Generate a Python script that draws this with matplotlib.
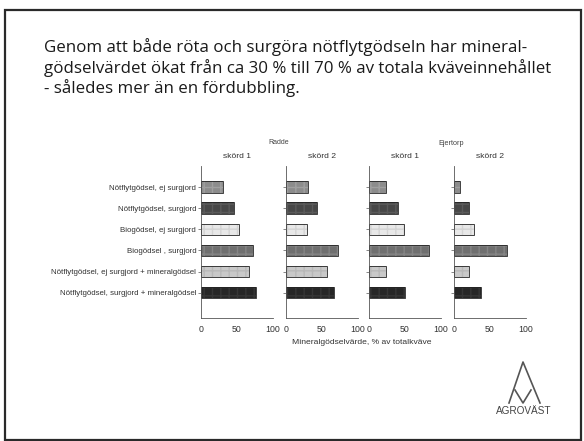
import matplotlib
matplotlib.use("Agg")
import matplotlib.pyplot as plt
from matplotlib.lines import Line2D
from matplotlib.patches import Rectangle

categories = [
    "Nötflytgödsel, ej surgjord",
    "Nötflytgödsel, surgjord",
    "Biogödsel, ej surgjord",
    "Biogödsel , surgjord",
    "Nötflytgödsel, ej surgjord + mineralgödsel",
    "Nötflytgödsel, surgjord + mineralgödsel",
]
panel_titles = ["skörd 1", "skörd 2", "skörd 1", "skörd 2"]
site_titles = ["Radde", "Ejertorp"]
radde_skord1 = [30, 46, 53, 72, 67, 76]
radde_skord2 = [30, 43, 29, 72, 57, 66]
ejertorp_skord1 = [24, 40, 49, 83, 24, 50]
ejertorp_skord2 = [9, 21, 28, 73, 21, 37]
series = [radde_skord1, radde_skord2, ejertorp_skord1, ejertorp_skord2]
xticks = [0, 50, 100]
xlabel = "Mineralgödselvärde, % av totalkväve"
heading = ("Genom att både röta och surgöra nötflytgödseln har mineral-\n"
           "gödselvärdet ökat från ca 30 % till 70 % av totala kväveinnehållet\n"
           "- således mer än en fördubbling.")

bar_colors = ["#8c8c8c", "#474747", "#e8e8e8", "#6f6f6f", "#c9c9c9", "#262626"]
hatch_colors = ["#a0a0a0", "#5a5a5a", "#d4d4d4", "#858585", "#b8b8b8", "#363636"]

W, H = 584, 441
fig = plt.figure(figsize=(W / 100, H / 100), dpi=100)
fig.patch.set_facecolor("white")

def fx(px):
    return px / W

def fy(py):
    return 1 - py / H

# slide border
fig.add_artist(Rectangle((fx(5), fy(440)), fx(576), fy(10) - fy(440),
                         transform=fig.transFigure, fill=False,
                         edgecolor="#2a2a2a", linewidth=1.6))

# heading text
fig.text(fx(44), fy(38), heading, ha="left", va="top", fontsize=12.2,
         family="Open Sans", color="#1a1a1a", linespacing=1.2)

lefts = [201, 286, 369, 454]
pw = 72
top, bottom = 166, 318
label_font = dict(family="Liberation Sans", fontsize=5.7, color="#333333")

for i, (left, vals) in enumerate(zip(lefts, series)):
    ax = fig.add_axes([fx(left), fy(bottom), fx(pw), fy(top) - fy(bottom)])
    ypos = list(range(len(categories)))
    for y, v, c, hc in zip(ypos, vals, bar_colors, hatch_colors):
        ax.barh(y, v, height=0.55, color=c, edgecolor=hc, linewidth=0,
                hatch="++")
        ax.barh(y, v, height=0.55, color="none", edgecolor="#222222",
                linewidth=0.6)
    ax.set_xlim(0, 100)
    ax.set_ylim(6.2, -1)
    ax.set_xticks(xticks)
    ax.set_xticklabels([str(t) for t in xticks], family="Liberation Sans",
                       fontsize=6.3)
    ax.set_yticks(ypos)
    if i == 0:
        ax.set_yticklabels(categories, **label_font)
    else:
        ax.set_yticklabels([])
    ax.tick_params(axis="y", length=2, width=0.5, pad=1.5, colors="#555555")
    ax.tick_params(axis="x", length=0, pad=5)
    for t in ax.get_yticklabels() + ax.get_xticklabels():
        t.set_color("#333333")
    for s in ["top", "right"]:
        ax.spines[s].set_visible(False)
    for s in ["left", "bottom"]:
        ax.spines[s].set_linewidth(0.6)
        ax.spines[s].set_color("#555555")
    ax.set_title(panel_titles[i], fontsize=6.1, family="Liberation Sans",
                 color="#333333", pad=6)
    ax.set_facecolor("none")

fig.text(fx(279), fy(142), site_titles[0], ha="center", va="center",
         fontsize=5, family="Liberation Sans", color="#444444")
fig.text(fx(451), fy(144), site_titles[1], ha="center", va="center",
         fontsize=5.2, family="Liberation Sans", color="#444444")
fig.text(fx(362), fy(342), xlabel, ha="center", va="center",
         fontsize=6.1, family="Liberation Sans", color="#333333")

# logo
lc = "#555555"
for xs, ys in [([509, 523, 540], [403, 362, 403]),
               ([515, 523, 531], [390, 403, 390])]:
    fig.add_artist(Line2D([fx(x) for x in xs], [fy(y) for y in ys],
                          transform=fig.transFigure, color=lc, linewidth=1.2))
fig.text(fx(524), fy(411), "AGROVÄST", ha="center", va="center",
         fontsize=7.2, family="Liberation Sans", color="#444444")

fig.savefig("out.png", dpi=100, facecolor="white")
